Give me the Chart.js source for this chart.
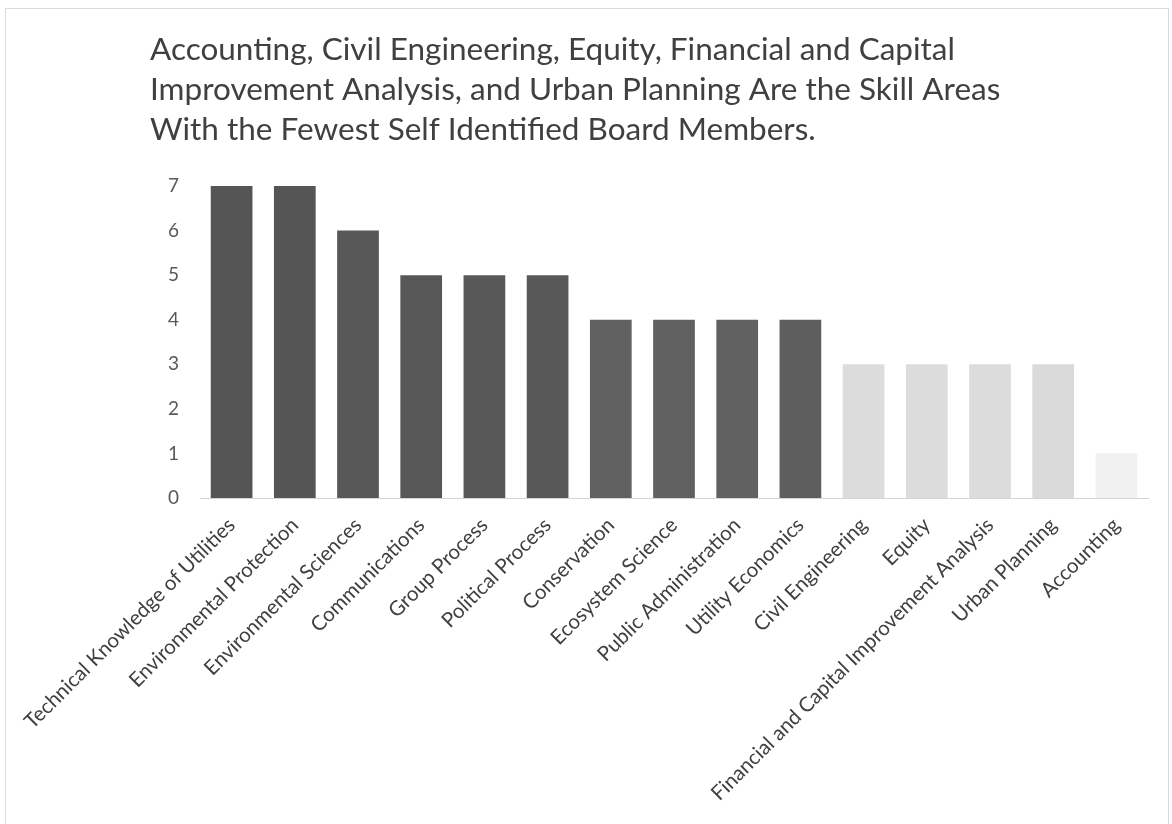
<!DOCTYPE html>
<html>
<head>
<meta charset="utf-8">
<script src="https://cdn.jsdelivr.net/npm/chart.js@4.4.0/dist/chart.umd.min.js"></script>
<style>
  html, body { margin: 0; padding: 0; background: #fff; }
  #wrap { position: absolute; left: 0; top: 0; width: 1172px; height: 824px; }
  #frame { position: absolute; left: 5px; top: 8px; width: 1162px; height: 830px; border: 1px solid #dcdcdc; pointer-events: none; }
</style>
</head>
<body>
<div id="wrap">
  <canvas id="c" width="1172" height="824"></canvas>
  <div id="frame"></div>
</div>
<script>
const titleLines = [
  "Accounting, Civil Engineering, Equity, Financial and Capital",
  "Improvement Analysis, and Urban Planning Are the Skill Areas",
  "With the Fewest Self Identified Board Members."
];
const categories = [
  "Technical Knowledge of Utilities",
  "Environmental Protection",
  "Environmental Sciences",
  "Communications",
  "Group Process",
  "Political Process",
  "Conservation",
  "Ecosystem Science",
  "Public Administration",
  "Utility Economics",
  "Civil Engineering",
  "Equity",
  "Financial and Capital Improvement Analysis",
  "Urban Planning",
  "Accounting"
];
const counts = [7, 7, 6, 5, 5, 5, 4, 4, 4, 4, 3, 3, 3, 3, 1];
const barColors = [
  "#555555", "#555555", "#585858", "#575757", "#585858", "#585858",
  "#616161", "#616161", "#616161", "#5e5e5e",
  "#dcdcdc", "#dcdcdc", "#dcdcdc", "#dadada",
  "#f0f0f0"
];
const yTicks = [0, 1, 2, 3, 4, 5, 6, 7];

const FONT = "Lato, 'Open Sans', sans-serif";

new Chart(document.getElementById("c"), {
  type: "bar",
  data: {
    labels: categories,
    datasets: [{
      data: counts,
      backgroundColor: barColors,
      borderWidth: 0,
      categoryPercentage: 1.0,
      barPercentage: 0.66
    }]
  },
  options: {
    responsive: false,
    animation: false,
    devicePixelRatio: 1,
    layout: { padding: { left: 150, right: 24, top: 20, bottom: 0 } },
    plugins: {
      legend: { display: false },
      tooltip: { enabled: false },
      title: {
        display: true,
        text: titleLines,
        align: "start",
        color: "#404040",
        font: { family: FONT, size: 31.5, weight: "normal", lineHeight: 1.27 },
        padding: { top: 10, bottom: 36 }
      }
    },
    scales: {
      x: {
        grid: { display: false, drawTicks: false },
        border: { display: true, color: "#d4d4d4", width: 1 },
        ticks: {
          color: "#404040",
          font: { family: FONT, size: 20.5 },
          minRotation: 45,
          maxRotation: 45,
          autoSkip: false,
          padding: 15
        },
        afterFit: (s) => { s.height = 326; }
      },
      y: {
        min: 0,
        max: 7,
        afterBuildTicks: (s) => { s.ticks = yTicks.map(v => ({ value: v })); },
        grid: { display: false, drawTicks: false },
        border: { display: false },
        ticks: {
          color: "#595959",
          font: { family: FONT, size: 19 },
          padding: 21
        },
        afterFit: (s) => { s.width = 50; }
      }
    }
  }
});
</script>
</body>
</html>
